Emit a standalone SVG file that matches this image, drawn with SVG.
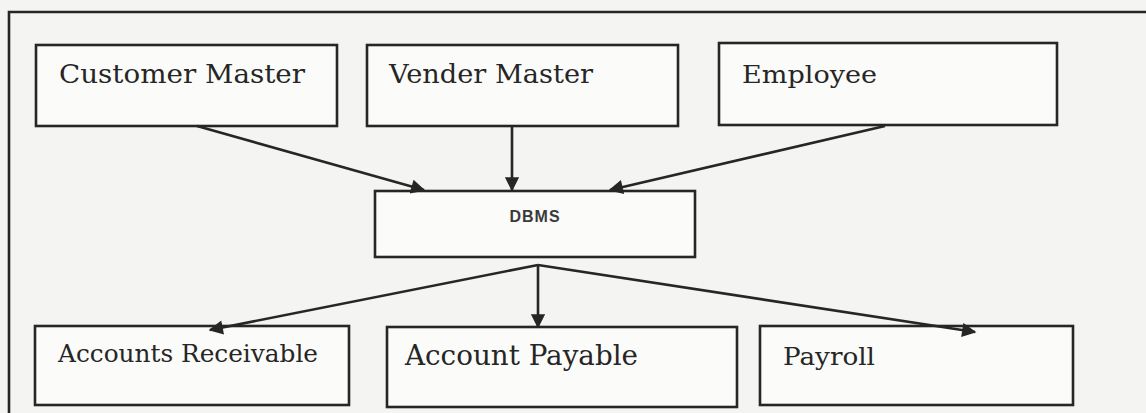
<svg xmlns="http://www.w3.org/2000/svg" width="1146" height="413" viewBox="0 0 1146 413">
<style>
.bg{fill:#f4f4f2}
.box{fill:#fbfbfa;stroke:#262626;stroke-width:2.6}
.frame{fill:none;stroke:#262626;stroke-width:2.6}
.lbl{font-family:"DejaVu Serif","Liberation Serif",serif;fill:#262626}
.small{font-family:"Liberation Sans",Arial,sans-serif;font-weight:bold;fill:#3a3a3a;font-size:16px;letter-spacing:1px}
.conn{stroke:#262626;stroke-width:2.6;fill:none;marker-end:url(#arr)}
</style>
<defs>
<marker id="arr" viewBox="0 0 10 10" refX="9" refY="5" markerWidth="6.5" markerHeight="5.5" markerUnits="strokeWidth" orient="auto">
<path d="M0,0 L10,5 L0,10 Z" fill="#262626"/>
</marker>
</defs>
<rect class="bg" x="0" y="0" width="1146" height="413"/>
<path class="frame" d="M9,420 L9,12 L1150,12"/>
<g id="customer-master">
<rect class="box" x="36" y="45" width="301" height="81"/>
<text class="lbl" x="59" y="83" font-size="26" textLength="246" lengthAdjust="spacingAndGlyphs">Customer Master</text>
</g>
<g id="vender-master">
<rect class="box" x="367" y="45" width="311" height="81"/>
<text class="lbl" x="389" y="83" font-size="26" textLength="204" lengthAdjust="spacingAndGlyphs">Vender Master</text>
</g>
<g id="employee">
<rect class="box" x="719" y="43" width="338" height="82"/>
<text class="lbl" x="742" y="83" font-size="25" textLength="135" lengthAdjust="spacingAndGlyphs">Employee</text>
</g>
<g id="dbms">
<rect class="box" x="375" y="191" width="320" height="66"/>
<text class="small" x="535" y="222" text-anchor="middle">DBMS</text>
</g>
<g id="accounts-receivable">
<rect class="box" x="35" y="326" width="314" height="79"/>
<text class="lbl" x="58" y="362" font-size="24" textLength="260" lengthAdjust="spacingAndGlyphs">Accounts Receivable</text>
</g>
<g id="account-payable">
<rect class="box" x="387" y="327" width="350" height="80"/>
<text class="lbl" x="405" y="365" font-size="27" textLength="233" lengthAdjust="spacingAndGlyphs">Account Payable</text>
</g>
<g id="payroll">
<rect class="box" x="760" y="326" width="313" height="79"/>
<text class="lbl" x="783" y="365" font-size="24" textLength="92" lengthAdjust="spacingAndGlyphs">Payroll</text>
</g>
<g id="connectors">
<line class="conn" x1="197" y1="126" x2="424" y2="190"/>
<line class="conn" x1="512" y1="126" x2="512" y2="190"/>
<line class="conn" x1="885" y1="126" x2="610" y2="190"/>
<line class="conn" x1="538" y1="265" x2="210" y2="330"/>
<line class="conn" x1="538" y1="265" x2="538" y2="327"/>
<line class="conn" x1="538" y1="265" x2="975" y2="332"/>
</g>
</svg>
